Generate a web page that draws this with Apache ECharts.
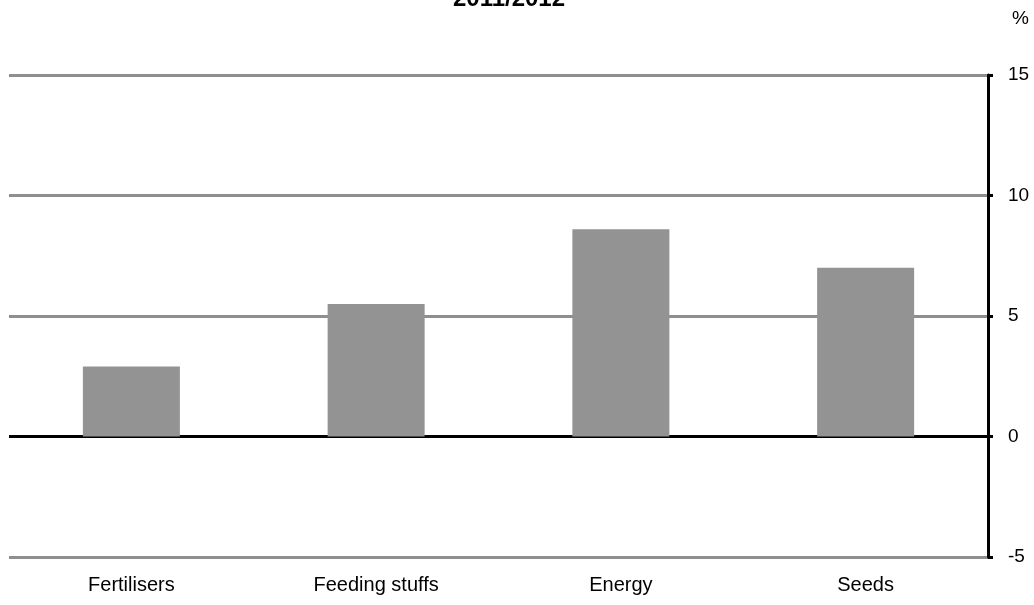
<!DOCTYPE html>
<html>
<head>
<meta charset="utf-8">
<style>
  html, body { margin: 0; padding: 0; background: #ffffff; }
  #chart { width: 1034px; height: 605px; }
</style>
<script src="https://cdn.jsdelivr.net/npm/echarts@6/dist/echarts.min.js"></script>
</head>
<body>
<div id="chart"></div>
<script>
// Input price changes by category, 2011/2012 (%)
const categories = ['Fertilisers', 'Feeding stuffs', 'Energy', 'Seeds'];
const changes = [2.9, 5.5, 8.6, 7.0];
const yTicks = [-5, 0, 5, 10, 15];

const font = '"Liberation Sans", Arial, sans-serif';
const chart = echarts.init(document.getElementById('chart'), null, { renderer: 'canvas' });

chart.setOption({
  animation: false,
  backgroundColor: '#ffffff',
  title: {
    text: '2011/2012',
    left: 504,
    textAlign: 'center',
    top: -18,
    textStyle: { fontFamily: font, fontSize: 24, fontWeight: 'bold', color: '#000' }
  },
  graphic: [{
    type: 'text',
    left: 1012,
    top: 9,
    style: { text: '%', fontFamily: font, fontSize: 19, fill: '#000' }
  }],
  grid: { left: 9, right: 46, top: 75, bottom: 48, containLabel: false },
  xAxis: {
    type: 'category',
    data: categories,
    axisLine: { show: false, onZero: false },
    axisTick: { show: false },
    axisLabel: { fontFamily: font, fontSize: 20, color: '#000', margin: 18 }
  },
  yAxis: {
    type: 'value',
    position: 'right',
    min: yTicks[0],
    max: yTicks[yTicks.length - 1],
    interval: 5,
    axisLine: { show: true, lineStyle: { color: '#000', width: 3 } },
    axisTick: { show: true, length: 5, lineStyle: { color: '#000', width: 3 } },
    axisLabel: { fontFamily: font, fontSize: 19, color: '#000', margin: 20 },
    splitLine: {
      show: true,
      lineStyle: {
        width: 3,
        color: yTicks.map(v => (v === 0 ? '#000000' : '#8f8f8f'))
      }
    }
  },
  series: [{
    type: 'bar',
    data: changes,
    barWidth: 97,
    itemStyle: { color: '#939393' }
  }]
});
</script>
</body>
</html>
